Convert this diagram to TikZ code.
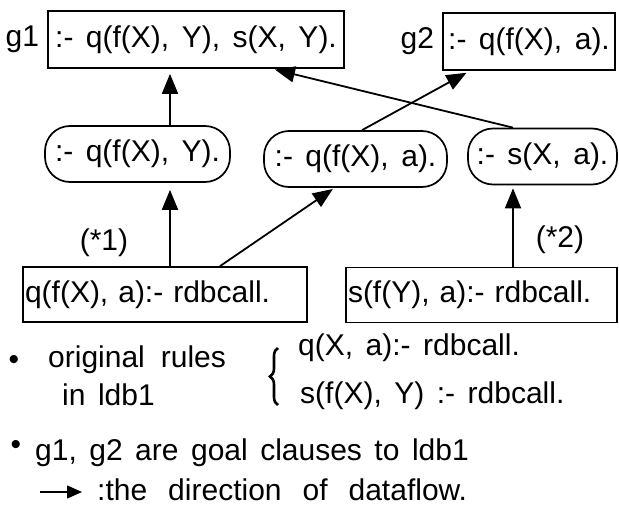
\documentclass[tikz,border=0pt]{standalone}
\usepackage{fontspec}
\setmainfont{Liberation Sans}[WordSpace=1.5]
\usetikzlibrary{arrows.meta,positioning,decorations.pathreplacing}
\begin{document}
\begin{tikzpicture}[x=1pt, y=-1pt, inner sep=2pt,
                font=\fontsize{30}{35}\selectfont,
                goal/.style={draw, line width=1.7pt, minimum height=57pt},
                sub/.style={draw, line width=1.7pt, rounded corners=25pt, minimum height=56pt},
                rulebox/.style={draw, line width=1.7pt, minimum height=55pt, inner xsep=2pt, align=left},
                note/.style={inner sep=0pt, anchor=base west},
                flow/.style={-{Triangle[length=20pt,width=16pt]}, line width=1.8pt}]
                \useasboundingbox ( 0, 0 ) rectangle ( 619, 519 );

% цели
                \node [goal, minimum width=296pt] (g1) at ( 196, 39.5 ) {:- q(f(X), Y), s(X, Y).};
                \node [goal, minimum width=172pt] (g2) at ( 529, 41.5 ) {:- q(f(X), a).};
                \node [left=6pt of g1] (g1lab) {g1};
                \node [left=6pt of g2] (g2lab) {g2};

% подцели
                \node [sub, minimum width=185pt] (n1) at ( 137.5, 154 ) {:- q(f(X), Y).};
                \node [sub, minimum width=183pt] (n2) at ( 355.5, 159 ) {:- q(f(X), a).};
                \node [sub, minimum width=149pt] (n3) at ( 542.5, 156.5 ) {:- s(X, a).};

% правила
                \node [rulebox, text width=280pt] (r1) at ( 165, 294.5 ) {q(f(X), a):- rdbcall.};
                \node [rulebox, text width=267pt] (r2) at ( 481.5, 295 ) {s(f(Y), a):- rdbcall.};
                \node (st1) at ( 104, 243 ) {(*1)};
                \node (st2) at ( 560, 240 ) {(*2)};

% стрелки
                \draw [flow, shorten >=5pt] ([xshift=32.5pt]n1.north) -- ([xshift=-26pt]g1.south);
                \draw [flow, shorten >=7pt] ([xshift=5pt]r1.north) -- ([xshift=32.5pt]n1.south);
                \draw [flow, shorten >=2pt] ([xshift=55pt]r1.north) -- ([xshift=-21pt]n2.south);
                \draw [flow, shorten >=3pt] ([xshift=31.5pt]r2.north) -- ([xshift=-29.5pt]n3.south);
                \draw [flow, shorten >=4pt] ([xshift=6.5pt]n2.north) -- ([xshift=-59pt]g2.south);
                \draw [flow, shorten >=3pt] ([xshift=-29.5pt]n3.north) -- ([xshift=76pt]g1.south);

% пояснения
                \node (b1) at ( 14, 362 ) {\textbullet};
                \node [note] (orig) at ( 48, 367 ) {\spaceskip=16pt\relax original rules};
                \node [note] (inl) at ( 62, 405 ) {in ldb1};
                \draw [decorate, decoration={brace, amplitude=8pt}, line width=2.6pt] ( 278, 405 ) -- ( 278, 348 );
                \node [note] (ru1) at ( 298, 355 ) {q(X, a):- rdbcall.};
                \node [note] (ru2) at ( 300, 403 ) {s(f(X), Y) :- rdbcall.};
                \node (b2) at ( 16, 447 ) {\textbullet};
                \node [note] (gl) at ( 35, 460 ) {g1, g2 are goal clauses to ldb1};
                \coordinate (k1) at ( 40, 492 );
                \coordinate (k2) at ( 82, 492 );
                \draw [-{Triangle[length=15pt,width=13pt]}, line width=1.6pt] (k1) -- (k2);
                \node [note] (dir) at ( 97, 500 ) {\spaceskip=21pt\relax :the direction of dataflow.};
            \end{tikzpicture}
\end{document}
